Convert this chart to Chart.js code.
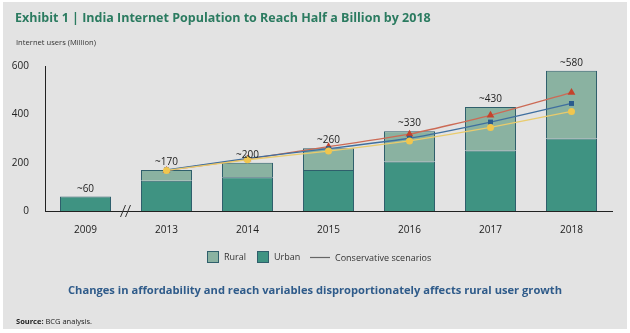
<!DOCTYPE html>
<html>
<head>
<meta charset="utf-8">
<script src="https://cdn.jsdelivr.net/npm/chart.js@4/dist/chart.umd.min.js"></script>
<style>
  html, body { margin: 0; padding: 0; background: #fff; }
  #wrap { position: relative; width: 630px; height: 333px; }
</style>
</head>
<body>
<div id="wrap"><canvas id="chart" width="630" height="333"></canvas></div>
<script>
// Internet users in India, millions
const years = ["2009", "2013", "2014", "2015", "2016", "2017", "2018"];
const urbanUsers = [60, 125, 140, 170, 205, 250, 300];
const ruralUsers = [0, 45, 60, 90, 125, 180, 280];
// conservative scenarios (no data for 2009)
const scenarioHigh = [null, 168, 215, 266, 318, 396, 490];
const scenarioMid = [null, 170, 218, 258, 301, 368, 445];
const scenarioLow = [null, 168, 212, 248, 290, 346, 412];
const yTicks = [0, 200, 400, 600];

const FONT = "'Open Sans', 'Noto Sans', sans-serif";
const COLORS = {
  urban: "#3f9382",
  rural: "#8ab2a1",
  barEdge: "#2f5f6c",
  red: "#c4432c",
  redLine: "#cc6a55",
  blue: "#2b5b8e",
  blueLine: "#3f6f9f",
  yellow: "#f0c64e",
  yellowLine: "#e9cb6c",
};

// Draws text at x, squeezed to maxW if given
const drawText = (ctx, text, x, y, font, color, maxW) => {
  ctx.font = font;
  ctx.fillStyle = color;
  if (maxW) ctx.fillText(text, x, y, maxW);
  else ctx.fillText(text, x, y);
};

const exhibitDecor = {
  id: "exhibitDecor",
  beforeDraw(chart) {
    const ctx = chart.ctx;
    ctx.save();
    ctx.fillStyle = "#ffffff";
    ctx.fillRect(0, 0, chart.width, chart.height);
    ctx.fillStyle = "#e3e3e3";
    ctx.fillRect(3, 2, 624, 327);
    ctx.restore();
  },
  afterDatasetsDraw(chart) {
    const ctx = chart.ctx;
    const x = chart.scales.x;
    const y = chart.scales.y;
    ctx.save();

    // totals above the bars
    ctx.textAlign = "center";
    ctx.textBaseline = "alphabetic";
    years.forEach((yr, i) => {
      const total = urbanUsers[i] + ruralUsers[i];
      drawText(ctx, "~" + total, x.getPixelForValue(i), y.getPixelForValue(total) - 5,
        "10px " + FONT, "#222");
    });

    // axis break between 2009 and 2013
    const mid = (x.getPixelForValue(0) + x.getPixelForValue(1)) / 2;
    const base = y.bottom;
    ctx.strokeStyle = "#333";
    ctx.lineWidth = 1;
    [-3, 2].forEach((dx) => {
      ctx.beginPath();
      ctx.moveTo(mid + dx - 2.5, base + 6);
      ctx.lineTo(mid + dx + 2.5, base - 6);
      ctx.stroke();
    });
    ctx.restore();
  },
  afterDraw(chart) {
    const ctx = chart.ctx;
    ctx.save();
    ctx.textBaseline = "middle";
    ctx.textAlign = "left";

    drawText(ctx, "Exhibit 1 | India Internet Population to Reach Half a Billion by 2018",
      15, 18, "bold 12.5px " + FONT, "#2b7b60", 417);
    drawText(ctx, "Internet users (Million)", 16, 43, "8px " + FONT, "#333", 80);

    // legend
    const ly = 257;
    ctx.lineWidth = 1;
    ctx.strokeStyle = COLORS.barEdge;
    ctx.fillStyle = COLORS.rural;
    ctx.fillRect(207, ly - 6, 12, 12);
    ctx.strokeRect(207.5, ly - 5.5, 11, 11);
    drawText(ctx, "Rural", 224, ly, "9px " + FONT, "#333");
    ctx.fillStyle = COLORS.urban;
    ctx.fillRect(257, ly - 6, 12, 12);
    ctx.strokeRect(257.5, ly - 5.5, 11, 11);
    drawText(ctx, "Urban", 274, ly, "9px " + FONT, "#333");
    ctx.strokeStyle = "#666";
    ctx.lineWidth = 1.2;
    ctx.beginPath();
    ctx.moveTo(310, ly + 0.5);
    ctx.lineTo(330, ly + 0.5);
    ctx.stroke();
    drawText(ctx, "Conservative scenarios", 335, ly + 1, "9px " + FONT, "#333", 102);

    drawText(ctx, "Changes in affordability and reach variables disproportionately affects rural user growth",
      68, 291, "bold 11.2px " + FONT, "#2f5b8a", 494);

    drawText(ctx, "Source:", 16, 322, "bold 7.5px " + FONT, "#222");
    const sw = ctx.measureText("Source: ").width;
    drawText(ctx, "BCG analysis.", 16 + sw, 322, "7.5px " + FONT, "#222");
    ctx.restore();
  },
};

const scenarioLine = (data, line, point, style, radius) => ({
  type: "line",
  data,
  stack: style,
  order: 0,
  borderColor: line,
  borderWidth: 1.3,
  pointStyle: style,
  pointRadius: radius,
  pointBackgroundColor: point,
  pointBorderColor: point,
  pointBorderWidth: 0,
  tension: 0.15,
  spanGaps: false,
});

new Chart(document.getElementById("chart"), {
  type: "bar",
  data: {
    labels: years,
    datasets: [
      {
        label: "Urban",
        data: urbanUsers,
        stack: "users",
        order: 1,
        backgroundColor: COLORS.urban,
        borderColor: COLORS.barEdge,
        borderWidth: 1,
        borderSkipped: "bottom",
      },
      {
        label: "Rural",
        data: ruralUsers,
        stack: "users",
        order: 1,
        backgroundColor: COLORS.rural,
        borderColor: COLORS.barEdge,
        borderWidth: 1,
        borderSkipped: "bottom",
      },
      scenarioLine(scenarioLow, COLORS.yellowLine, COLORS.yellow, "circle", 3.5),
      scenarioLine(scenarioMid, COLORS.blueLine, COLORS.blue, "rect", 3.5),
      scenarioLine(scenarioHigh, COLORS.redLine, COLORS.red, "triangle", 4.5),
    ],
  },
  options: {
    responsive: false,
    animation: false,
    devicePixelRatio: 1,
    layout: { padding: { left: 0, right: 18, top: 66, bottom: 90 } },
    datasets: { bar: { categoryPercentage: 1, barPercentage: 0.63 } },
    plugins: {
      legend: { display: false },
      tooltip: { enabled: false },
    },
    scales: {
      x: {
        stacked: true,
        grid: { display: false },
        border: { display: true, color: "#222", width: 1 },
        ticks: { color: "#222", font: { family: FONT, size: 10 }, padding: 5 },
        afterFit: (scale) => { scale.height = 32; },
      },
      y: {
        stacked: true,
        min: 0,
        max: 600,
        grid: { display: false },
        border: { display: true, color: "#222", width: 1 },
        afterBuildTicks: (scale) => { scale.ticks = yTicks.map((v) => ({ value: v })); },
        ticks: { color: "#222", font: { family: FONT, size: 10 }, padding: 8 },
        afterFit: (scale) => { scale.width = 45; },
      },
    },
  },
  plugins: [exhibitDecor],
});
</script>
</body>
</html>
